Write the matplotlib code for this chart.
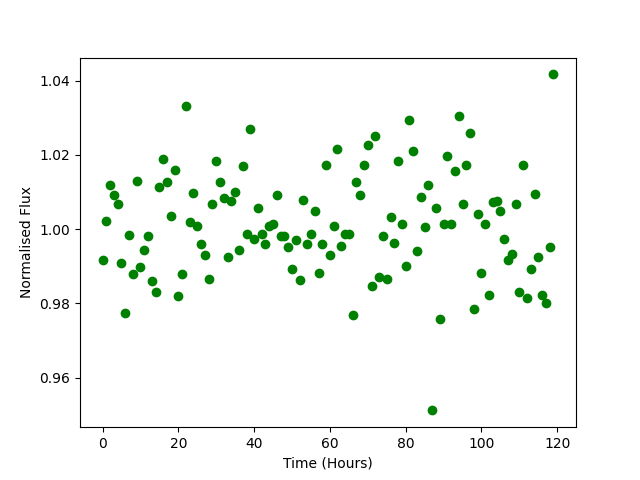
import matplotlib
matplotlib.use("Agg")
import matplotlib.pyplot as plt

# time in hours, one reading per hour
hours = list(range(120))

flux = [
    0.9916, 1.0021, 1.0120, 1.0091, 1.0067, 0.9908, 0.9773, 0.9984, 0.9879, 1.0129,
    0.9898, 0.9945, 0.9981, 0.9860, 0.9832, 1.0115, 1.0190, 1.0126, 1.0035, 1.0159,
    0.9819, 0.9879, 1.0333, 1.0019, 1.0097, 1.0008, 0.9960, 0.9930, 0.9867, 1.0069,
    1.0185, 1.0128, 1.0085, 0.9926, 1.0075, 1.0099, 0.9945, 1.0169, 0.9986, 1.0269,
    0.9975, 1.0056, 0.9986, 0.9959, 1.0010, 1.0013, 1.0093, 0.9981, 0.9983, 0.9952,
    0.9894, 0.9972, 0.9862, 1.0080, 0.9959, 0.9988, 1.0048, 0.9881, 0.9959, 1.0172,
    0.9930, 1.0010, 1.0215, 0.9956, 0.9986, 0.9986, 0.9768, 1.0128, 1.0091, 1.0174,
    1.0228, 0.9848, 1.0250, 0.9870, 0.9983, 0.9867, 1.0034, 0.9964, 1.0185, 1.0015,
    0.9902, 1.0293, 1.0212, 0.9940, 1.0088, 1.0005, 1.0120, 0.9512, 1.0056, 0.9759,
    1.0013, 1.0196, 1.0015, 1.0158, 1.0304, 1.0067, 1.0172, 1.0258, 0.9784, 1.0042,
    0.9883, 1.0013, 0.9824, 1.0072, 1.0075, 1.0048, 0.9975, 0.9916, 0.9932, 1.0069,
    0.9830, 1.0172, 0.9816, 0.9894, 1.0096, 0.9926, 0.9824, 0.9800, 0.9951, 1.0417,
]

fig, ax = plt.subplots(figsize=(6.4, 4.8), dpi=100)
ax.plot(hours, flux, "go")
ax.set_xlabel("Time (Hours)")
ax.set_ylabel("Normalised Flux")

fig.savefig("out.png")
